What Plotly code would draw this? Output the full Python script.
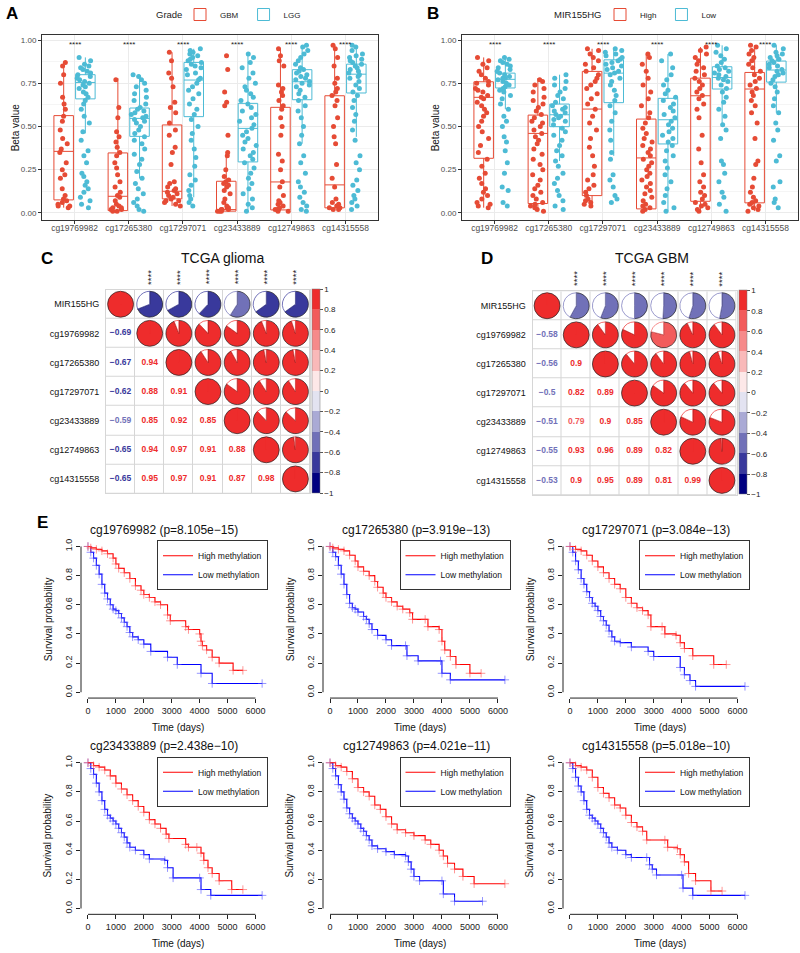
import plotly.graph_objects as go

W, H = 800, 953

probes = ['cg19769982', 'cg17265380', 'cg17297071', 'cg23433889', 'cg12749863', 'cg14315558']
red, cyan = '#E64B35', '#4DBBD5'

# ---- panel A: beta values by grade (box stats)
a_gbm_q1 = [0.075, 0.013, 0.081, 0.010, 0.017, 0.029]
a_gbm_med = [0.356, 0.096, 0.125, 0.019, 0.179, 0.162]
a_gbm_q3 = [0.563, 0.347, 0.509, 0.183, 0.611, 0.678]
a_gbm_lo = [0.03, 0.01, 0.04, 0.01, 0.01, 0.02]
a_gbm_hi = [0.87, 0.78, 0.93, 0.35, 0.95, 0.97]
a_lgg_q1 = [0.660, 0.443, 0.557, 0.295, 0.655, 0.694]
a_lgg_med = [0.755, 0.547, 0.769, 0.489, 0.759, 0.803]
a_lgg_q3 = [0.800, 0.607, 0.871, 0.634, 0.829, 0.861]
a_lgg_lo = [0.46, 0.20, 0.09, 0.01, 0.40, 0.44]
a_lgg_hi = [0.90, 0.80, 0.95, 0.92, 0.97, 0.97]

a_gbm_pts = [
    [0.03, 0.04, 0.04, 0.05, 0.06, 0.07, 0.08, 0.10, 0.14, 0.20, 0.22, 0.25, 0.29, 0.35, 0.37, 0.40, 0.43, 0.48, 0.53, 0.56, 0.60, 0.63, 0.67, 0.75, 0.80, 0.85, 0.87],
    [0.01, 0.01, 0.02, 0.02, 0.03, 0.03, 0.04, 0.05, 0.07, 0.09, 0.10, 0.12, 0.15, 0.18, 0.22, 0.26, 0.29, 0.33, 0.35, 0.38, 0.41, 0.44, 0.47, 0.55, 0.61, 0.77],
    [0.04, 0.05, 0.06, 0.07, 0.07, 0.08, 0.09, 0.10, 0.11, 0.12, 0.13, 0.14, 0.15, 0.17, 0.18, 0.28, 0.35, 0.38, 0.45, 0.48, 0.52, 0.58, 0.61, 0.64, 0.73, 0.78, 0.81, 0.88, 0.93],
    [0.01, 0.01, 0.01, 0.02, 0.02, 0.02, 0.03, 0.03, 0.04, 0.06, 0.08, 0.11, 0.13, 0.15, 0.16, 0.17, 0.18, 0.19, 0.21, 0.25, 0.33, 0.35, 0.45, 0.62, 0.64, 0.70, 0.83, 0.91],
    [0.01, 0.01, 0.02, 0.02, 0.03, 0.04, 0.05, 0.06, 0.07, 0.10, 0.15, 0.18, 0.25, 0.30, 0.34, 0.45, 0.50, 0.55, 0.60, 0.62, 0.65, 0.68, 0.70, 0.72, 0.74, 0.85, 0.88, 0.91, 0.95],
    [0.02, 0.02, 0.03, 0.03, 0.04, 0.05, 0.06, 0.08, 0.15, 0.20, 0.28, 0.40, 0.44, 0.50, 0.55, 0.62, 0.65, 0.68, 0.70, 0.72, 0.75, 0.78, 0.85, 0.90, 0.95, 0.97],
]
a_lgg_pts = [
    [0.03, 0.05, 0.07, 0.09, 0.12, 0.14, 0.16, 0.18, 0.21, 0.23, 0.29, 0.33, 0.36, 0.42, 0.47, 0.52, 0.56, 0.60, 0.63, 0.65, 0.67, 0.69, 0.70, 0.72, 0.73, 0.74, 0.75, 0.76, 0.77, 0.78, 0.79, 0.80, 0.81, 0.82, 0.83, 0.84, 0.85, 0.86, 0.88, 0.90],
    [0.01, 0.02, 0.04, 0.06, 0.08, 0.11, 0.14, 0.17, 0.20, 0.24, 0.28, 0.31, 0.34, 0.37, 0.40, 0.42, 0.44, 0.46, 0.48, 0.50, 0.52, 0.53, 0.54, 0.55, 0.56, 0.57, 0.58, 0.59, 0.60, 0.61, 0.63, 0.65, 0.67, 0.69, 0.71, 0.73, 0.75, 0.77, 0.79, 0.80],
    [0.04, 0.06, 0.08, 0.10, 0.13, 0.16, 0.19, 0.22, 0.27, 0.32, 0.37, 0.42, 0.46, 0.50, 0.54, 0.57, 0.60, 0.63, 0.66, 0.69, 0.71, 0.73, 0.75, 0.77, 0.78, 0.80, 0.81, 0.83, 0.84, 0.85, 0.86, 0.87, 0.88, 0.89, 0.90, 0.91, 0.92, 0.93, 0.94, 0.95],
    [0.01, 0.03, 0.05, 0.08, 0.11, 0.14, 0.17, 0.20, 0.23, 0.26, 0.29, 0.31, 0.33, 0.35, 0.37, 0.39, 0.41, 0.43, 0.45, 0.47, 0.49, 0.51, 0.53, 0.55, 0.57, 0.59, 0.61, 0.63, 0.65, 0.67, 0.69, 0.71, 0.73, 0.75, 0.78, 0.81, 0.84, 0.87, 0.90, 0.92],
    [0.01, 0.02, 0.04, 0.06, 0.09, 0.12, 0.15, 0.18, 0.23, 0.29, 0.33, 0.40, 0.45, 0.50, 0.55, 0.59, 0.62, 0.65, 0.67, 0.69, 0.71, 0.73, 0.74, 0.75, 0.76, 0.77, 0.78, 0.79, 0.80, 0.81, 0.82, 0.83, 0.84, 0.86, 0.88, 0.90, 0.92, 0.94, 0.96, 0.97],
    [0.02, 0.04, 0.06, 0.08, 0.10, 0.13, 0.16, 0.19, 0.25, 0.29, 0.33, 0.42, 0.48, 0.53, 0.57, 0.61, 0.65, 0.68, 0.70, 0.72, 0.74, 0.76, 0.78, 0.79, 0.80, 0.81, 0.82, 0.83, 0.84, 0.85, 0.86, 0.87, 0.88, 0.89, 0.90, 0.91, 0.92, 0.94, 0.96, 0.97],
]

# ---- panel B: beta values by MIR155HG expression
b_high_q1 = [0.316, 0.054, 0.100, 0.023, 0.067, 0.058]
b_high_med = [0.669, 0.460, 0.601, 0.318, 0.678, 0.717]
b_high_q3 = [0.759, 0.566, 0.819, 0.543, 0.780, 0.813]
b_high_lo = [0.03, 0.01, 0.04, 0.01, 0.01, 0.01]
b_high_hi = [0.90, 0.78, 0.95, 0.92, 0.96, 0.97]
b_low_q1 = [0.723, 0.499, 0.638, 0.399, 0.717, 0.757]
b_low_med = [0.773, 0.568, 0.809, 0.539, 0.784, 0.827]
b_low_q3 = [0.809, 0.630, 0.886, 0.663, 0.846, 0.879]
b_low_lo = [0.60, 0.30, 0.33, 0.01, 0.52, 0.58]
b_low_hi = [0.90, 0.80, 0.95, 0.92, 0.97, 0.97]

b_high_pts = [
    [0.03, 0.04, 0.05, 0.06, 0.08, 0.10, 0.12, 0.14, 0.17, 0.20, 0.23, 0.27, 0.31, 0.35, 0.39, 0.43, 0.47, 0.50, 0.53, 0.56, 0.58, 0.60, 0.62, 0.64, 0.66, 0.67, 0.68, 0.70, 0.71, 0.72, 0.74, 0.75, 0.76, 0.78, 0.80, 0.82, 0.84, 0.86, 0.88, 0.90],
    [0.01, 0.02, 0.03, 0.04, 0.05, 0.06, 0.08, 0.10, 0.12, 0.14, 0.16, 0.19, 0.22, 0.25, 0.28, 0.31, 0.34, 0.37, 0.40, 0.42, 0.44, 0.46, 0.48, 0.50, 0.52, 0.53, 0.55, 0.57, 0.59, 0.61, 0.63, 0.65, 0.67, 0.70, 0.72, 0.74, 0.76, 0.77],
    [0.04, 0.05, 0.06, 0.07, 0.08, 0.10, 0.12, 0.14, 0.16, 0.19, 0.22, 0.27, 0.33, 0.38, 0.43, 0.48, 0.52, 0.56, 0.60, 0.63, 0.66, 0.69, 0.72, 0.74, 0.76, 0.78, 0.80, 0.82, 0.84, 0.86, 0.88, 0.90, 0.92, 0.94, 0.95],
    [0.01, 0.02, 0.03, 0.04, 0.05, 0.07, 0.09, 0.11, 0.13, 0.15, 0.17, 0.19, 0.21, 0.23, 0.25, 0.27, 0.29, 0.31, 0.33, 0.35, 0.37, 0.39, 0.41, 0.43, 0.46, 0.49, 0.52, 0.55, 0.58, 0.62, 0.66, 0.70, 0.74, 0.78, 0.82, 0.86, 0.90, 0.92],
    [0.01, 0.02, 0.03, 0.04, 0.05, 0.06, 0.08, 0.10, 0.12, 0.15, 0.18, 0.22, 0.29, 0.37, 0.45, 0.55, 0.60, 0.63, 0.66, 0.68, 0.70, 0.72, 0.74, 0.76, 0.78, 0.80, 0.82, 0.84, 0.86, 0.88, 0.90, 0.92, 0.94, 0.96],
    [0.01, 0.02, 0.03, 0.04, 0.05, 0.06, 0.07, 0.09, 0.12, 0.15, 0.20, 0.28, 0.30, 0.43, 0.52, 0.58, 0.62, 0.65, 0.68, 0.70, 0.72, 0.74, 0.76, 0.78, 0.80, 0.82, 0.84, 0.86, 0.88, 0.90, 0.92, 0.94, 0.96, 0.97],
]
b_low_pts = [
    [0.04, 0.06, 0.13, 0.15, 0.23, 0.29, 0.36, 0.41, 0.44, 0.50, 0.53, 0.56, 0.60, 0.63, 0.66, 0.68, 0.70, 0.71, 0.72, 0.73, 0.74, 0.75, 0.76, 0.77, 0.78, 0.78, 0.79, 0.80, 0.81, 0.82, 0.83, 0.84, 0.85, 0.86, 0.87, 0.88, 0.89, 0.90],
    [0.02, 0.04, 0.07, 0.10, 0.13, 0.17, 0.20, 0.23, 0.27, 0.30, 0.33, 0.36, 0.39, 0.42, 0.45, 0.47, 0.49, 0.51, 0.53, 0.54, 0.55, 0.56, 0.57, 0.58, 0.59, 0.60, 0.61, 0.62, 0.64, 0.66, 0.68, 0.70, 0.72, 0.74, 0.76, 0.78, 0.80],
    [0.06, 0.08, 0.10, 0.15, 0.19, 0.22, 0.31, 0.35, 0.42, 0.48, 0.53, 0.58, 0.62, 0.65, 0.68, 0.71, 0.74, 0.76, 0.78, 0.80, 0.81, 0.82, 0.83, 0.84, 0.85, 0.86, 0.87, 0.88, 0.89, 0.90, 0.91, 0.92, 0.93, 0.94, 0.95],
    [0.01, 0.03, 0.06, 0.10, 0.14, 0.18, 0.22, 0.26, 0.30, 0.33, 0.36, 0.39, 0.41, 0.43, 0.45, 0.47, 0.49, 0.51, 0.53, 0.55, 0.57, 0.59, 0.61, 0.63, 0.65, 0.67, 0.69, 0.71, 0.74, 0.77, 0.80, 0.84, 0.88, 0.92],
    [0.01, 0.05, 0.09, 0.12, 0.18, 0.23, 0.28, 0.30, 0.43, 0.48, 0.51, 0.56, 0.60, 0.64, 0.67, 0.70, 0.72, 0.74, 0.76, 0.77, 0.78, 0.79, 0.80, 0.81, 0.82, 0.83, 0.84, 0.85, 0.87, 0.89, 0.91, 0.93, 0.95, 0.97],
    [0.03, 0.06, 0.08, 0.15, 0.18, 0.30, 0.33, 0.42, 0.48, 0.52, 0.58, 0.62, 0.66, 0.70, 0.73, 0.75, 0.77, 0.79, 0.80, 0.81, 0.82, 0.83, 0.84, 0.85, 0.86, 0.87, 0.88, 0.89, 0.90, 0.91, 0.92, 0.93, 0.95, 0.97],
]

# ---- panels C / D: correlation matrices (lower triangles)
corr_labels = ['MIR155HG'] + probes
glioma_r = [
    [1],
    [-0.69, 1],
    [-0.67, 0.94, 1],
    [-0.62, 0.88, 0.91, 1],
    [-0.59, 0.85, 0.92, 0.85, 1],
    [-0.65, 0.94, 0.97, 0.91, 0.88, 1],
    [-0.65, 0.95, 0.97, 0.91, 0.87, 0.98, 1],
]
gbm_r = [
    [1],
    [-0.58, 1],
    [-0.56, 0.90, 1],
    [-0.50, 0.82, 0.89, 1],
    [-0.51, 0.79, 0.90, 0.85, 1],
    [-0.55, 0.93, 0.96, 0.89, 0.82, 1],
    [-0.53, 0.90, 0.95, 0.89, 0.81, 0.99, 1],
]
cb_ticks = [1, 0.8, 0.6, 0.4, 0.2, 0, -0.2, -0.4, -0.6, -0.8, -1]
cb_text = ['1', '0.8', '0.6', '0.4', '0.2', '0', '\u22120.2', '\u22120.4', '\u22120.6', '\u22120.8', '\u22121']
corr_cols = ['#000080', '#39399C', '#7171B8', '#AAAAD5', '#E3E3F1',
             '#FDE8E8', '#F9B9B9', '#F68A8A', '#F25B5B', '#EE2C2C']

# ---- panel E: Kaplan-Meier curves (step points)
km_titles = ['cg19769982 (p=8.105e\u221215)', 'cg17265380 (p=3.919e\u221213)', 'cg17297071 (p=3.084e\u221213)',
             'cg23433889 (p=2.438e\u221210)', 'cg12749863 (p=4.021e\u221211)', 'cg14315558 (p=5.018e\u221210)']
km_high_t = [
    [0, 100, 300, 500, 700, 900, 1000, 1100, 1300, 1500, 1700, 1900, 2000, 2200, 2400, 2600, 2850, 2950, 3500, 3600, 4000, 4050, 4100, 4250, 4450, 4700, 5200, 5550],
    [0, 100, 300, 500, 700, 900, 1000, 1200, 1400, 1600, 1700, 1900, 2000, 2200, 2400, 2600, 2850, 2950, 3400, 3500, 3900, 4000, 4100, 4300, 4500, 5000, 5400],
    [0, 200, 400, 600, 800, 1000, 1200, 1400, 1600, 1800, 2000, 2200, 2400, 2600, 2800, 2900, 3300, 3400, 3800, 3950, 4100, 4400, 5150, 5600],
    [0, 200, 400, 600, 800, 1000, 1200, 1400, 1600, 1800, 2000, 2200, 2400, 2600, 2800, 2900, 3500, 3600, 3900, 4050, 4150, 4300, 4450, 4700, 5150, 5550],
    [0, 200, 400, 600, 800, 1000, 1200, 1400, 1600, 1800, 2000, 2200, 2400, 2700, 3000, 3400, 3600, 3900, 4050, 4200, 4450, 4750, 5150, 6250],
    [0, 200, 400, 600, 800, 1000, 1200, 1400, 1600, 1800, 2000, 2200, 2400, 2600, 2750, 3400, 3500, 3850, 3950, 4100, 4250, 4500, 5050, 5450],
]
km_high_s = [
    [1.0, 0.99, 0.98, 0.97, 0.95, 0.92, 0.88, 0.85, 0.82, 0.78, 0.73, 0.70, 0.67, 0.65, 0.62, 0.60, 0.53, 0.49, 0.45, 0.43, 0.40, 0.35, 0.32, 0.29, 0.24, 0.20, 0.15, 0.15],
    [1.0, 0.99, 0.98, 0.97, 0.94, 0.90, 0.86, 0.83, 0.80, 0.76, 0.72, 0.68, 0.65, 0.62, 0.59, 0.57, 0.545, 0.50, 0.50, 0.45, 0.43, 0.35, 0.29, 0.245, 0.19, 0.13, 0.13],
    [1.0, 0.98, 0.97, 0.94, 0.90, 0.86, 0.82, 0.78, 0.74, 0.71, 0.65, 0.61, 0.58, 0.56, 0.53, 0.45, 0.45, 0.40, 0.39, 0.34, 0.30, 0.25, 0.19, 0.19],
    [1.0, 0.98, 0.97, 0.95, 0.91, 0.86, 0.82, 0.78, 0.74, 0.70, 0.66, 0.61, 0.58, 0.55, 0.51, 0.48, 0.44, 0.42, 0.42, 0.38, 0.33, 0.28, 0.24, 0.19, 0.13, 0.13],
    [1.0, 0.98, 0.97, 0.94, 0.89, 0.83, 0.80, 0.77, 0.71, 0.68, 0.63, 0.58, 0.54, 0.52, 0.50, 0.47, 0.44, 0.40, 0.36, 0.31, 0.27, 0.22, 0.17, 0.17],
    [1.0, 0.98, 0.97, 0.95, 0.90, 0.83, 0.79, 0.76, 0.71, 0.69, 0.64, 0.59, 0.56, 0.53, 0.47, 0.47, 0.42, 0.41, 0.37, 0.32, 0.24, 0.19, 0.12, 0.12],
]
km_low_t = [
    [0, 100, 200, 300, 400, 500, 600, 700, 800, 900, 1000, 1100, 1200, 1300, 1400, 1500, 1600, 1800, 2000, 2250, 2850, 3200, 4050, 4450, 6240],
    [0, 100, 200, 300, 400, 500, 600, 700, 800, 900, 1000, 1200, 1300, 1400, 1500, 1700, 2000, 2200, 2700, 2750, 3150, 3950, 4000, 4300, 6250],
    [0, 100, 200, 300, 400, 500, 600, 700, 800, 900, 1000, 1100, 1200, 1300, 1400, 1500, 1600, 1800, 2200, 2800, 3000, 3950, 4100, 4300, 4500, 6270],
    [0, 100, 200, 300, 400, 500, 600, 700, 800, 900, 1000, 1100, 1200, 1300, 1400, 1500, 1700, 2000, 2200, 2750, 2850, 3050, 4000, 4050, 4400, 6240],
    [0, 100, 200, 300, 400, 500, 600, 700, 800, 900, 1000, 1100, 1200, 1300, 1400, 1500, 1700, 2000, 2300, 2700, 2800, 2900, 3000, 3200, 4000, 4050, 4450, 5450],
    [0, 100, 200, 300, 400, 500, 600, 700, 800, 900, 1000, 1100, 1200, 1300, 1400, 1500, 1700, 2000, 2200, 2750, 2850, 2950, 3100, 4000, 4050, 4400, 6270],
]
km_low_s = [
    [1.0, 0.96, 0.92, 0.87, 0.81, 0.74, 0.68, 0.64, 0.60, 0.57, 0.56, 0.54, 0.51, 0.48, 0.45, 0.41, 0.38, 0.36, 0.33, 0.28, 0.24, 0.19, 0.13, 0.06, 0.06],
    [1.0, 0.96, 0.93, 0.87, 0.81, 0.74, 0.67, 0.61, 0.58, 0.57, 0.55, 0.52, 0.50, 0.47, 0.43, 0.39, 0.36, 0.32, 0.32, 0.25, 0.215, 0.215, 0.13, 0.085, 0.085],
    [1.0, 0.96, 0.90, 0.84, 0.78, 0.74, 0.69, 0.65, 0.61, 0.59, 0.56, 0.52, 0.49, 0.46, 0.42, 0.38, 0.35, 0.34, 0.31, 0.28, 0.245, 0.17, 0.12, 0.08, 0.04, 0.04],
    [1.0, 0.96, 0.92, 0.86, 0.80, 0.74, 0.68, 0.64, 0.62, 0.60, 0.58, 0.55, 0.52, 0.49, 0.45, 0.42, 0.40, 0.37, 0.34, 0.33, 0.28, 0.21, 0.21, 0.13, 0.09, 0.09],
    [1.0, 0.96, 0.91, 0.85, 0.80, 0.75, 0.69, 0.65, 0.62, 0.60, 0.58, 0.55, 0.53, 0.50, 0.47, 0.43, 0.41, 0.39, 0.37, 0.36, 0.32, 0.27, 0.22, 0.19, 0.19, 0.10, 0.05, 0.05],
    [1.0, 0.96, 0.90, 0.84, 0.80, 0.74, 0.68, 0.64, 0.62, 0.60, 0.58, 0.55, 0.52, 0.49, 0.45, 0.42, 0.40, 0.37, 0.35, 0.35, 0.30, 0.27, 0.23, 0.23, 0.14, 0.09, 0.09],
]
km_xticks = [0, 1000, 2000, 3000, 4000, 5000, 6000]
km_yticks = [0, 0.2, 0.4, 0.6, 0.8, 1.0]
km_ytext = ['0.0', '0.2', '0.4', '0.6', '0.8', '1.0']


def px(x):
    return x / W


def py(y):
    return 1 - y / H


FONT = 'Liberation Sans, Arial, sans-serif'
fig = go.Figure()
ann = []
shapes = []
layout = {}


def text(x, y, s, size, color='#111111', **kw):
    opts = dict(xanchor='center', yanchor='middle')
    opts.update(kw)
    ann.append(dict(x=px(x), y=py(y), xref='paper', yref='paper', text=s, showarrow=False,
                    font=dict(size=size, color=color), **opts))


# ---------- box + jitter panels
def box_panel(n, x0, x1, y0, y1, legend, names, colors, stats, pts, title, title_x, lx):
    xa, ya = ('x', 'y') if n == 1 else (f'x{n}', f'y{n}')
    for g in range(2):
        fig.add_trace(go.Box(
            x=[p for p, vals in zip(probes, pts[g]) for _ in vals],
            y=[v for vals in pts[g] for v in vals],
            xaxis=xa, yaxis=ya, offsetgroup=str(g), boxpoints='all', jitter=0.9, pointpos=0,
            marker=dict(color=colors[g], size=5, line=dict(width=0)),
            line=dict(width=0, color='rgba(0,0,0,0)'), fillcolor='rgba(0,0,0,0)',
            showlegend=False, hoverinfo='skip'))
    for g in range(2):
        q1, med, q3, lo, hi = stats[g]
        fig.add_trace(go.Box(
            x=probes, q1=q1, median=med, q3=q3, lowerfence=lo, upperfence=hi,
            xaxis=xa, yaxis=ya, offsetgroup=str(g), name=names[g], legend=legend,
            line=dict(color=colors[g], width=1), fillcolor='rgba(0,0,0,0)',
            whiskerwidth=0, boxpoints=False, hoverinfo='skip'))
    key = '' if n == 1 else str(n)
    layout['xaxis' + key] = dict(
        domain=[px(x0), px(x1)], anchor=ya, type='category', categoryorder='array',
        categoryarray=probes, range=[-0.6, 5.6], showline=True, mirror=True,
        linecolor='#333333', linewidth=1, showgrid=True, gridcolor='#EBEBEB',
        ticks='outside', ticklen=3, tickcolor='#333333', ticklabelstandoff=-3,
        tickfont=dict(size=8.5, color='#4D4D4D'), zeroline=False)
    layout['yaxis' + key] = dict(
        domain=[py(y1), py(y0)], anchor=xa, range=[-0.04, 1.03], tick0=0, dtick=0.25,
        tickformat='.2f', showline=True, mirror=True, linecolor='#333333', linewidth=1,
        showgrid=True, gridcolor='#EBEBEB',
        minor=dict(dtick=0.125, showgrid=True, gridcolor='#F5F5F5'),
        ticks='outside', ticklen=3, tickcolor='#333333',
        tickfont=dict(size=8, color='#4D4D4D'), zeroline=False)
    layout[legend] = dict(
        orientation='h', x=px(lx), xanchor='left', y=py(14), yanchor='middle',
        font=dict(size=8, color='#222222'), itemwidth=30, bgcolor='rgba(0,0,0,0)')
    text(title_x, 14, title, 9.5, color='#222222', xanchor='right')
    for p in probes:
        ann.append(dict(x=p, y=0.975, xref=xa, yref=ya, text='****', showarrow=False,
                        xanchor='center', yanchor='middle',
                        font=dict(size=8, color='#222222')))
    text(x0 - 27, (y0 + y1) / 2, 'Beta value', 10, textangle=-90)


box_panel(1, 42, 378, 34, 219, 'legend', ['GBM', 'LGG'], [red, cyan],
          [(a_gbm_q1, a_gbm_med, a_gbm_q3, a_gbm_lo, a_gbm_hi),
           (a_lgg_q1, a_lgg_med, a_lgg_q3, a_lgg_lo, a_lgg_hi)],
          [a_gbm_pts, a_lgg_pts], 'Grade', 184, 180)
box_panel(2, 462, 798, 34, 219, 'legend2', ['High', 'Low'], [red, cyan],
          [(b_high_q1, b_high_med, b_high_q3, b_high_lo, b_high_hi),
           (b_low_q1, b_low_med, b_low_q3, b_low_lo, b_low_hi)],
          [b_high_pts, b_low_pts], 'MIR155HG', 604, 600)


# ---------- correlation panels
cscale = []
for k, c in enumerate(corr_cols):
    cscale += [[k / 10, c], [(k + 1) / 10, c]]


def bin_col(r):
    return corr_cols[min(int((r + 1) / 0.2 + 1e-9), 9)]


def corr_panel(n, rows, x0, y0, size, title, tx):
    m = len(corr_labels)
    full = [[rows[max(i, j)][min(i, j)] for j in range(m)] for i in range(m)]
    xa, ya = f'x{n}', f'y{n}'
    fig.add_trace(go.Heatmap(z=full, x=corr_labels, y=corr_labels, xaxis=xa, yaxis=ya,
                             colorscale=[[0, '#D6D6D6'], [1, '#D6D6D6']], showscale=False, hoverinfo='skip'))
    fig.add_trace(go.Heatmap(z=full, x=corr_labels, y=corr_labels, xaxis=xa, yaxis=ya, xgap=1, ygap=1,
                             colorscale=[[0, 'white'], [1, 'white']], showscale=False, hoverinfo='skip'))
    lx, ly, lt, lc, lv = [], [], [], [], []
    for i in range(m):
        for j in range(i):
            r = full[i][j]
            lx.append(corr_labels[j])
            ly.append(corr_labels[i])
            lt.append('<b>' + ('\u2212' if r < 0 else '') + f'{abs(r):g}' + '</b>')
            lc.append(bin_col(r))
            lv.append(r)
    fig.add_trace(go.Scatter(x=lx, y=ly, xaxis=xa, yaxis=ya, mode='text', text=lt,
                             textfont=dict(color=lc, size=8.5), showlegend=False, hoverinfo='skip'))
    fig.add_trace(go.Scatter(
        x=lx, y=ly, xaxis=xa, yaxis=ya, mode='markers', showlegend=False, hoverinfo='skip',
        marker=dict(color=lv, colorscale=cscale, cmin=-1, cmax=1, opacity=0, showscale=True,
                    colorbar=dict(x=px(x0 + size + 2), xanchor='left', y=py(y0 + size / 2),
                                  yanchor='middle', len=size, lenmode='pixels', thickness=8,
                                  xpad=0, ypad=0, outlinewidth=0.5, outlinecolor='#777777',
                                  tickvals=cb_ticks, ticktext=cb_text, ticks='outside',
                                  ticklen=3, tickcolor='#555555',
                                  tickfont=dict(size=8, color='#222222')))))
    cell = size / m
    pad = 1.6
    for i in range(m):
        for j in range(i, m):
            r = full[i][j]
            col = bin_col(r)
            fig.add_trace(go.Pie(
                values=[abs(r), 1 - abs(r)], labels=['r', 'rest'], sort=False,
                direction='clockwise' if r > 0 else 'counterclockwise', rotation=0,
                marker=dict(colors=[col, 'white'], line=dict(color=['#222222', col], width=0.7)),
                textinfo='none', hoverinfo='skip', showlegend=False,
                domain=dict(x=[px(x0 + j * cell + pad), px(x0 + (j + 1) * cell - pad)],
                            y=[py(y0 + (i + 1) * cell - pad), py(y0 + i * cell + pad)])))
    for j in range(1, m):
        ann.append(dict(x=corr_labels[j], y=py(y0 - 3), xref=xa, yref='paper', text='****',
                        textangle=-90, showarrow=False, xanchor='center', yanchor='bottom',
                        font=dict(size=9.5, color='#222222')))
    layout[f'xaxis{n}'] = dict(domain=[px(x0), px(x0 + size)], anchor=ya, type='category',
                               categoryorder='array', categoryarray=corr_labels,
                               showticklabels=False, showgrid=False, zeroline=False,
                               showline=True, mirror=True, linecolor='#D6D6D6', linewidth=1)
    layout[f'yaxis{n}'] = dict(domain=[py(y0 + size), py(y0)], anchor=xa, type='category',
                               categoryorder='array', categoryarray=corr_labels,
                               autorange='reversed', showgrid=False, zeroline=False,
                               showline=True, mirror=True, linecolor='#D6D6D6', linewidth=1,
                               ticklabelstandoff=4, tickfont=dict(size=9, color='#111111'))
    text(tx, 257, title, 14)


corr_panel(3, glioma_r, 106, 289, 204, 'TCGA glioma', 222)
corr_panel(4, gbm_r, 532.5, 290.5, 204, 'TCGA GBM', 652)


# ---------- Kaplan-Meier panels
km_cols = [(81, 268), (323, 510.5), (563, 750)]
km_rows = [(540.2, 697.8), (756.7, 914.3)]
km_title_x = [164, 416, 656]
km_title_y = [529.5, 746]

for k in range(6):
    r, c = divmod(k, 3)
    n = 5 + k
    xa, ya = f'x{n}', f'y{n}'
    x0, x1 = km_cols[c]
    y0, y1 = km_rows[r]
    lg = f'legend{n - 2}'
    fig.add_trace(go.Scatter(
        x=km_low_t[k], y=km_low_s[k], xaxis=xa, yaxis=ya, mode='lines+markers',
        line=dict(color='#0000FF', width=1.1, shape='hv'),
        marker=dict(symbol='cross-thin', size=6, line=dict(width=1, color='rgba(80,80,255,0.6)')),
        showlegend=False, hoverinfo='skip'))
    fig.add_trace(go.Scatter(
        x=km_high_t[k], y=km_high_s[k], xaxis=xa, yaxis=ya, mode='lines+markers',
        line=dict(color='#FF0000', width=1.1, shape='hv'),
        marker=dict(symbol='cross-thin', size=6, line=dict(width=1, color='rgba(255,80,80,0.6)')),
        showlegend=False, hoverinfo='skip'))
    fig.add_trace(go.Scatter(x=[None], y=[None], xaxis=xa, yaxis=ya, mode='lines',
                             line=dict(color='#FF0000', width=1.1), name='High methylation', legend=lg))
    fig.add_trace(go.Scatter(x=[None], y=[None], xaxis=xa, yaxis=ya, mode='lines',
                             line=dict(color='#0000FF', width=1.1), name='Low methylation', legend=lg))
    layout[f'xaxis{n}'] = dict(domain=[px(x0), px(x1)], anchor=ya, range=[-250, 6450],
                               tickvals=km_xticks, ticks='outside', ticklen=4, tickcolor='#222222',
                               tickfont=dict(size=9, color='#222222'), showgrid=False,
                               zeroline=False, showline=False)
    layout[f'yaxis{n}'] = dict(domain=[py(y1), py(y0)], anchor=xa, range=[-0.04, 1.04],
                               tickvals=km_yticks, ticktext=km_ytext, tickangle=-90,
                               ticks='outside', ticklen=4, tickcolor='#222222',
                               tickfont=dict(size=9, color='#222222'), showgrid=False,
                               zeroline=False, showline=False)
    layout[lg] = dict(x=px(x1), xanchor='right', y=py(y0), yanchor='top', bgcolor='white',
                      bordercolor='#333333', borderwidth=1, itemwidth=30, tracegroupgap=0,
                      font=dict(size=8.5, color='#111111'))
    shapes.append(dict(type='line', xref=xa, yref=ya + ' domain', x0=0, x1=6000, y0=0, y1=0,
                       line=dict(color='#222222', width=1)))
    shapes.append(dict(type='line', xref=xa + ' domain', yref=ya, x0=0, x1=0, y0=0, y1=1,
                       line=dict(color='#222222', width=1)))
    text(km_title_x[c], km_title_y[r], km_titles[k], 12)
    text(x0 - 33, (y0 + y1) / 2, 'Survival probability', 10, textangle=-90)
    text((x0 + x1) / 2 + 3, y1 + 29, 'Time (days)', 10)

# panel letters
for s, x, y in [('A', 12, 13), ('B', 433, 13), ('C', 47, 258), ('D', 487, 258), ('E', 42, 522)]:
    text(x, y, '<b>' + s + '</b>', 17, color='#000000')

fig.update_layout(
    width=W, height=H, margin=dict(l=0, r=0, t=0, b=0),
    paper_bgcolor='white', plot_bgcolor='white',
    font=dict(family=FONT, color='#111111'),
    boxmode='group', boxgap=0.2, boxgroupgap=0.1,
    annotations=ann, shapes=shapes, **layout)

# the page's default body margin would push the 800x953 figure off the window
fig.write_html("out.html", config={'displayModeBar': False},
               post_script="document.body.style.margin='0';document.body.style.overflow='hidden';")
